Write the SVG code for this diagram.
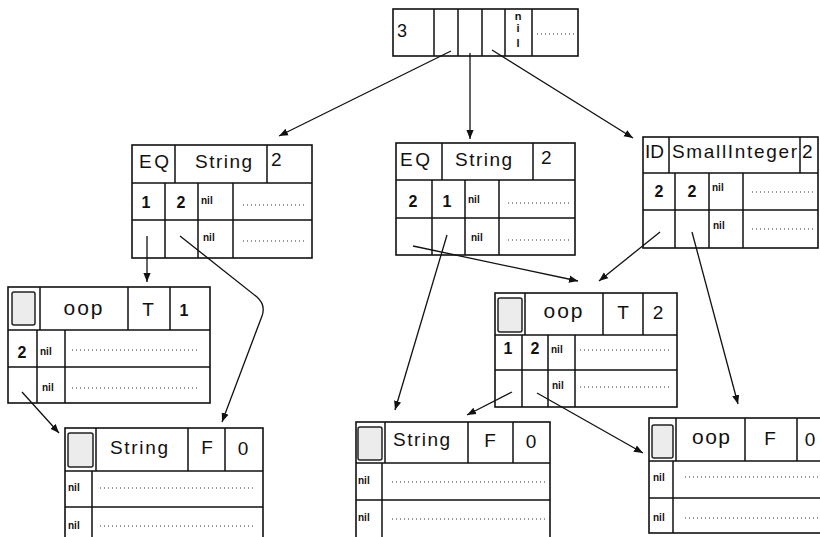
<svg xmlns="http://www.w3.org/2000/svg" width="820" height="537" viewBox="0 0 820 537">
<style>
.bg{fill:#fff}
.box{fill:#fff;stroke:#111;stroke-width:1.6}
.dv{stroke:#111;stroke-width:1.5}
.dot{stroke:#333;stroke-width:1;stroke-dasharray:1 3}
.sq{fill:#ececec;stroke:#222;stroke-width:1.5}
.t{font-family:"Liberation Sans",Arial,sans-serif;font-size:19px;fill:#111}
.d{font-family:"Liberation Sans",Arial,sans-serif;font-size:16px;font-weight:bold;fill:#111;text-anchor:middle}
.m{text-anchor:middle}
.n{font-family:"Liberation Sans",Arial,sans-serif;font-size:10px;font-weight:bold;fill:#111}
.c{stroke:#111;stroke-width:1.3;fill:none;marker-end:url(#ah)}
</style>
<defs>
<marker id="ah" viewBox="0 0 10 8" refX="10" refY="4" markerWidth="9" markerHeight="8" markerUnits="userSpaceOnUse" orient="auto">
<path d="M0,0 L10,4 L0,8 z" fill="#111"/>
</marker>
</defs>
<rect class="bg" x="0" y="0" width="820" height="537"/>

<g id="n0">
<rect class="box" x="393" y="9" width="185" height="47"/>
<path class="dv" d="M434,9V56M458,9V56M482,9V56M505,9V56M532,9V56"/>
<text class="t" x="397" y="37" style="font-size:18px">3</text>
<text class="n m" x="518" style="font-size:11px"><tspan x="518" y="20">n</tspan><tspan x="518" y="32">i</tspan><tspan x="518" y="47">l</tspan></text>
<line class="dot" x1="537" y1="34" x2="575" y2="34"/>
</g>

<g id="nA">
<rect class="box" x="132" y="145" width="180" height="113"/>
<path class="dv" d="M132,183H312M132,220H312M175,145V183M267,145V183M165,183V258M198,183V258M233,183V258"/>
<text class="t" x="139" y="168" textLength="30" lengthAdjust="spacing">EQ</text>
<text class="t" x="195" y="168" textLength="57" lengthAdjust="spacing">String</text>
<text class="t" x="271" y="166">2</text>
<text class="d" x="146" y="208">1</text>
<text class="d" x="181" y="208">2</text>
<text class="n" x="201" y="204">nil</text>
<line class="dot" x1="243" y1="205" x2="306" y2="205"/>
<text class="n" x="203" y="241">nil</text>
<line class="dot" x1="243" y1="241" x2="306" y2="241"/>
</g>

<g id="nB">
<rect class="box" x="396" y="143" width="179" height="112"/>
<path class="dv" d="M396,180H575M396,218H575M442,143V180M533,143V180M432,180V255M465,180V255M499,180V255"/>
<text class="t" x="400" y="166" textLength="30" lengthAdjust="spacing">EQ</text>
<text class="t" x="455" y="166" textLength="57" lengthAdjust="spacing">String</text>
<text class="t" x="541" y="164">2</text>
<text class="d" x="413" y="207">2</text>
<text class="d" x="447" y="207">1</text>
<text class="n" x="468" y="203">nil</text>
<line class="dot" x1="508" y1="203" x2="572" y2="203"/>
<text class="n" x="471" y="241">nil</text>
<line class="dot" x1="508" y1="240" x2="572" y2="240"/>
</g>

<g id="nC">
<rect class="box" x="643" y="137" width="175" height="111"/>
<path class="dv" d="M643,173H818M643,210H818M669,137V173M800,137V173M675,173V248M709,173V248M743,173V248"/>
<text class="t" x="645" y="158">ID</text>
<text class="t" x="672" y="158" textLength="125" lengthAdjust="spacing">SmallInteger</text>
<text class="t" x="802" y="158">2</text>
<text class="d" x="659" y="197">2</text>
<text class="d" x="692" y="197">2</text>
<text class="n" x="712" y="191">nil</text>
<line class="dot" x1="752" y1="192" x2="815" y2="192"/>
<text class="n" x="713" y="229">nil</text>
<line class="dot" x1="752" y1="229" x2="815" y2="229"/>
</g>

<g id="nD">
<rect class="box" x="8" y="287" width="202" height="116"/>
<path class="dv" d="M8,330H210M8,367H210M40,287V330M128,287V330M170,287V330M37,330V403M65,330V403"/>
<rect class="sq" x="12" y="292" width="23" height="33" rx="2"/>
<text class="t m" x="83" y="315" textLength="39" lengthAdjust="spacing" style="font-size:21px">oop</text>
<text class="t m" x="148" y="316">T</text>
<text class="d" x="184" y="316">1</text>
<text class="d" x="22" y="358">2</text>
<text class="n" x="40" y="355">nil</text>
<line class="dot" x1="72" y1="350" x2="200" y2="350"/>
<text class="n" x="42" y="391">nil</text>
<line class="dot" x1="72" y1="388" x2="200" y2="388"/>
</g>

<g id="nE">
<rect class="box" x="495" y="293" width="182" height="114"/>
<path class="dv" d="M495,335H677M495,370H677M525,293V335M603,293V335M643,293V335M522,335V407M548,335V407M575,335V407"/>
<rect class="sq" x="498" y="298" width="24" height="34" rx="2"/>
<text class="t m" x="563" y="318" textLength="39" lengthAdjust="spacing" style="font-size:21px">oop</text>
<text class="t m" x="623" y="319">T</text>
<text class="t m" x="658" y="319">2</text>
<text class="d" x="508" y="354">1</text>
<text class="d" x="535" y="354">2</text>
<text class="n" x="551" y="353">nil</text>
<line class="dot" x1="580" y1="350" x2="670" y2="350"/>
<text class="n" x="552" y="389">nil</text>
<line class="dot" x1="580" y1="387" x2="670" y2="387"/>
</g>

<g id="nF">
<rect class="box" x="65" y="428" width="198" height="112"/>
<path class="dv" d="M65,471H263M65,507H263M96,428V471M188,428V471M225,428V471M92,471V540"/>
<rect class="sq" x="68" y="433" width="25" height="34" rx="2"/>
<text class="t" x="110" y="454" textLength="58" lengthAdjust="spacing">String</text>
<text class="t m" x="207" y="454">F</text>
<text class="t m" x="243" y="455">0</text>
<text class="n" x="68" y="491">nil</text>
<line class="dot" x1="100" y1="488" x2="255" y2="488"/>
<text class="n" x="68" y="529">nil</text>
<line class="dot" x1="100" y1="526" x2="255" y2="526"/>
</g>

<g id="nG">
<rect class="box" x="356" y="422" width="194" height="118"/>
<path class="dv" d="M356,463H550M356,500H550M385,422V463M468,422V463M513,422V463M382,463V540"/>
<rect class="sq" x="358" y="427" width="24" height="33" rx="2"/>
<text class="t" x="393" y="446" textLength="57" lengthAdjust="spacing">String</text>
<text class="t m" x="490" y="447">F</text>
<text class="t m" x="531" y="448">0</text>
<text class="n" x="358" y="484">nil</text>
<line class="dot" x1="392" y1="482" x2="545" y2="482"/>
<text class="n" x="358" y="521">nil</text>
<line class="dot" x1="392" y1="519" x2="545" y2="519"/>
</g>

<g id="nH">
<rect class="box" x="649" y="418" width="173" height="115"/>
<path class="dv" d="M649,461H822M649,498H822M676,418V461M745,418V461M797,418V461M673,461V533"/>
<rect class="sq" x="652" y="425" width="21" height="33" rx="2"/>
<text class="t m" x="711" y="444" textLength="38" lengthAdjust="spacing" style="font-size:21px">oop</text>
<text class="t m" x="770" y="445">F</text>
<text class="t m" x="810" y="446">0</text>
<text class="n" x="653" y="481">nil</text>
<line class="dot" x1="685" y1="477" x2="818" y2="477"/>
<text class="n" x="653" y="521">nil</text>
<line class="dot" x1="685" y1="518" x2="818" y2="518"/>
</g>

<g id="connectors">
<path class="c" d="M451,51 L279,136"/>
<path class="c" d="M470,53 L470,139"/>
<path class="c" d="M492,50 L633,138"/>
<path class="c" d="M147,236 L147,282"/>
<path class="c" d="M180,236 L257,297 Q266,305 262,316 L222,422"/>
<path class="c" d="M22,392 L59,433"/>
<path class="c" d="M447,235 L395,410"/>
<path class="c" d="M413,246 L578,281"/>
<path class="c" d="M660,232 L599,281"/>
<path class="c" d="M692,232 L738,404"/>
<path class="c" d="M512,392 L467,415"/>
<path class="c" d="M537,393 L643,453"/>
</g>
</svg>
